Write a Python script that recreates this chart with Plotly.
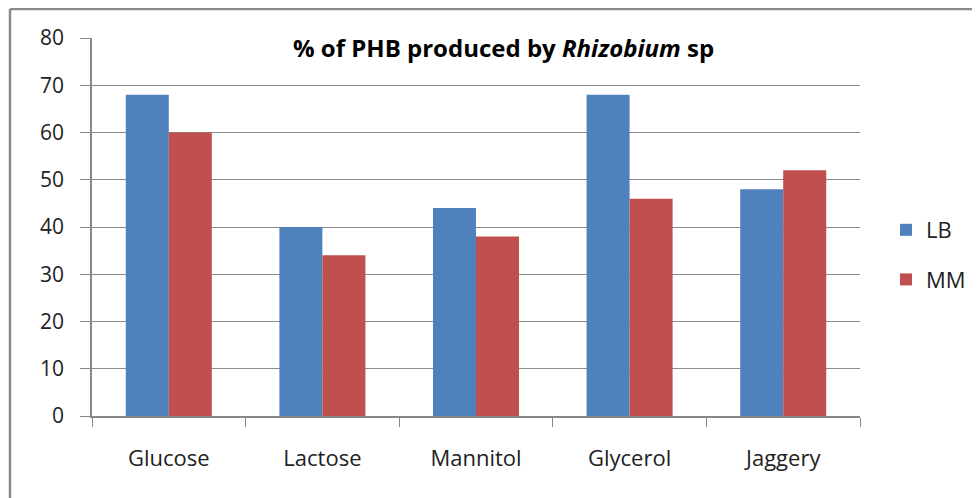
import plotly.graph_objects as go

categories = ["Glucose", "Lactose", "Mannitol", "Glycerol", "Jaggery"]
lb_values = [68, 40, 44, 68, 48]
mm_values = [60, 34, 38, 46, 52]
y_ticks = [0, 10, 20, 30, 40, 50, 60, 70, 80]

W, H = 992, 498
OFF = 8  # page body margin
L, T = 92 - OFF, 38 - OFF
R = W - (860 - OFF)
B = H - (416 - OFF)
PW, PH = W - L - R, H - T - B
FONT = "Open Sans"


def px_x(x):
    return (x - OFF - L) / PW


def px_y(y):
    return 1 - (y - OFF - T) / PH


fig = go.Figure()
fig.add_trace(go.Bar(name="LB", x=categories, y=lb_values, marker_color="#4F81BD",
                     marker_line_width=0, legendgroup="a"))
fig.add_trace(go.Bar(name="MM", x=categories, y=mm_values, marker_color="#C0504D",
                     marker_line_width=0, legendgroup="b"))

fig.update_layout(
    width=W, height=H,
    margin=dict(l=L, r=R, t=T, b=B, pad=0, autoexpand=False),
    paper_bgcolor="white", plot_bgcolor="white",
    barmode="group", bargap=0.44, bargroupgap=0,
    font=dict(family=FONT, size=21, color="#222"),
    showlegend=True,
    legend=dict(x=px_x(886), xanchor="left", y=px_y(255), yanchor="middle",
                font=dict(size=22, family=FONT, color="#222"), itemwidth=30,
                tracegroupgap=18, bgcolor="rgba(0,0,0,0)"),
    xaxis=dict(showline=True, linecolor="#888", linewidth=1.5,
               ticks="outside", tickson="boundaries", ticklen=9, tickcolor="#888",
               tickfont=dict(size=22, family=FONT, color="#222"), showgrid=False,
               ticklabelstandoff=22),
    yaxis=dict(range=[0, 80], tickvals=y_ticks, showgrid=True, gridcolor="#8c8c8c",
               gridwidth=1.2, showline=True, linecolor="#888", linewidth=1.5,
               ticks="outside", ticklen=10, tickcolor="#888", zeroline=False,
               tickfont=dict(size=21, family=FONT, color="#222"), ticklabelstandoff=12),
    shapes=[
        dict(type="line", xref="paper", yref="paper",
             x0=px_x(10), x1=px_x(1200), y0=px_y(9), y1=px_y(9),
             line=dict(color="#8a8a8a", width=2.5)),
        dict(type="line", xref="paper", yref="paper",
             x0=px_x(10), x1=px_x(10), y0=px_y(9), y1=px_y(700),
             line=dict(color="#8a8a8a", width=2.5)),
    ],
    annotations=[
        dict(text="<b>% of PHB produced by <i>Rhizobium</i> sp</b>",
             xref="paper", yref="paper",
             x=px_x(503), y=px_y(47),
             xanchor="center", yanchor="middle", showarrow=False,
             font=dict(size=24, family=FONT, color="black")),
    ],
)

fig.write_html("out.html")
